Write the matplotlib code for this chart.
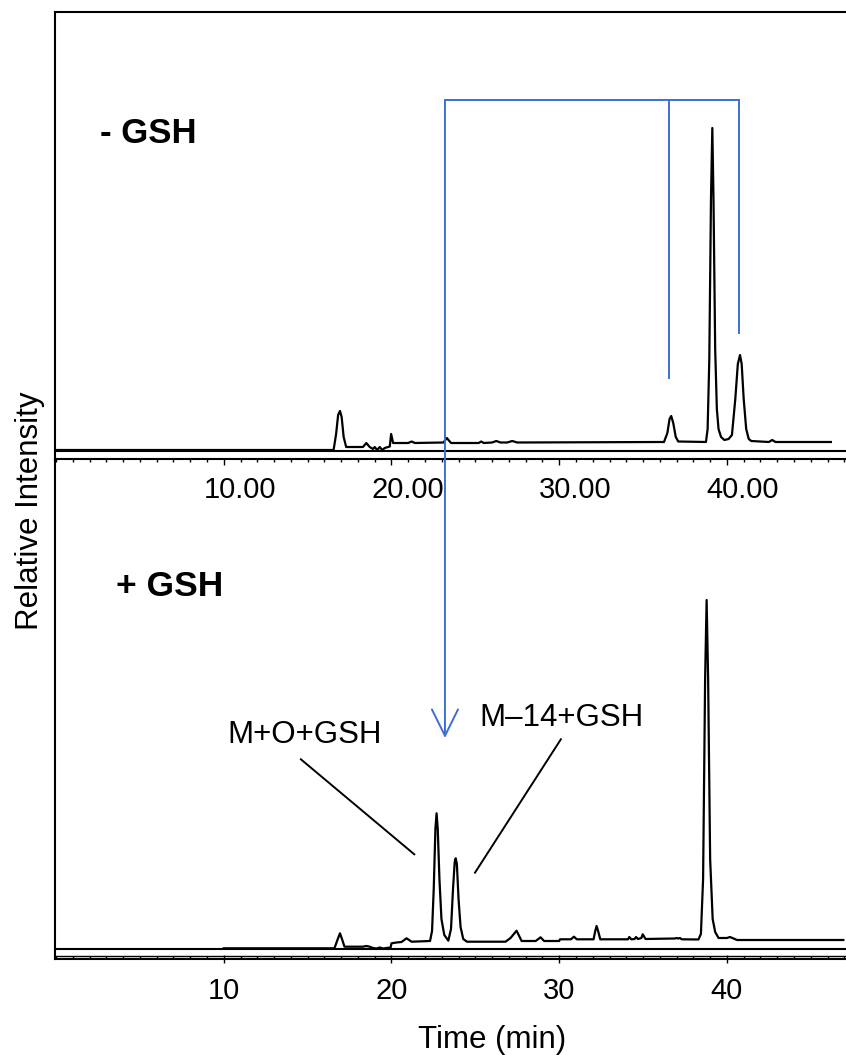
import numpy as np
import matplotlib.pyplot as plt
from matplotlib.ticker import MultipleLocator
from matplotlib.transforms import ScaledTranslation

plt.rcParams['font.family'] = ['Liberation Sans', 'DejaVu Sans']

# chromatogram without GSH (time in min, relative intensity)
top_t = [0.0, 16.55, 16.7, 16.82, 16.93, 17.03, 17.15, 17.3, 18.3, 18.5, 18.7, 18.9, 19.0,
         19.15, 19.3, 19.45, 19.6, 19.9, 19.98, 20.1, 21.0, 21.2, 21.4, 23.1, 23.3, 23.55,
         25.2, 25.35, 25.5, 26.0, 26.25, 26.5, 26.9, 27.2, 27.5, 36.25, 36.45, 36.58, 36.68,
         36.8, 36.95, 37.1, 38.75, 38.85, 38.95, 39.05, 39.13, 39.2, 39.3, 39.4, 39.5, 39.65,
         39.85, 40.1, 40.3, 40.5, 40.65, 40.78, 40.88, 41.0, 41.15, 41.3, 41.45, 42.5, 42.7,
         42.9, 46.2]
top_i = [9, 9, 25, 44, 48, 42, 22, 12, 12, 16, 12, 10, 12,
         9, 12, 9, 11, 12.5, 25, 16, 16, 17.5, 16, 16.5, 21, 16,
         16, 17.5, 16, 16.5, 18, 16.5, 16.5, 18, 16.5, 17, 26, 40, 43,
         36, 22, 17.5, 17, 30, 100, 260, 331, 260, 110, 50, 30, 22,
         19, 20, 24, 60, 95, 104, 95, 60, 30, 20, 18, 17, 19,
         17, 17]

# chromatogram with GSH
bot_t = [10.0, 16.6, 16.8, 16.93, 17.05, 17.2, 18.3, 18.5, 18.7, 18.9, 19.1, 19.3, 19.5,
         19.7, 19.95, 20.0, 20.3, 20.6, 20.9, 21.2, 22.3, 22.42, 22.52, 22.62, 22.69, 22.76,
         22.86, 22.98, 23.15, 23.39, 23.55, 23.67, 23.77, 23.83, 23.9, 24.0, 24.12, 24.28,
         24.5, 26.8, 27.1, 27.46, 27.76, 28.6, 28.89, 29.1, 30.0, 30.05, 30.7, 30.88, 31.05,
         32.05, 32.15, 32.23, 32.32, 32.45, 34.1, 34.18, 34.3, 34.5, 34.58, 34.7, 34.9,
         34.98, 35.15, 36.9, 37.0, 37.1, 37.2, 37.3, 38.3, 38.45, 38.58, 38.7, 38.79, 38.88,
         39.0, 39.15, 39.3, 39.5, 40.0, 40.18, 40.4, 40.6, 46.94]
bot_i = [10.7, 10.7, 20, 25.7, 20, 12.3, 12.3, 13, 12.3, 11, 10.5, 11.5, 10.5,
         11, 11.5, 15.7, 16.5, 17, 20.7, 17.3, 18, 28, 70, 130, 145.7, 130,
         80, 40, 24, 18.3, 30, 70, 97, 100.7, 95, 60, 32, 20,
         17.3, 17.3, 21, 28.3, 18, 18, 21.7, 18, 18, 19.7, 19.7, 22.3, 19.7,
         19.7, 28, 33, 28, 19.7, 19.7, 22, 19.7, 20, 22, 20, 21,
         24.7, 20, 20.5, 21, 20.5, 21, 19.7, 19.5, 25, 80, 280, 359, 280,
         100, 40, 27, 21, 21, 22, 20.5, 19, 19]

ticks = [10, 20, 30, 40]
top_labels = ['10.00', '20.00', '30.00', '40.00']
bot_labels = ['10', '20', '30', '40']

# blue bracket linking the two runs
bracket_t = [23.19, 36.56, 40.73]
bracket_top = 359
bracket_ends = [-279, 81, 126]

blue = '#3b6fd6'
W, H = 846, 1055
fig = plt.figure(figsize=(W / 100, H / 100), dpi=100)
ax_top = fig.add_axes([55 / W, 1 - 459 / H, 791 / W, 447 / H])
ax_bot = fig.add_axes([55 / W, 1 - 959 / H, 791 / W, 500 / H])

for ax in (ax_top, ax_bot):
    ax.set_facecolor('none')
    ax.set_xlim(-0.06, 47.1)
    ax.spines['right'].set_visible(False)
    ax.spines['left'].set_linewidth(1.5)
    ax.spines['bottom'].set_linewidth(1.5)
    ax.set_yticks([])
    ax.set_xticks(ticks)
    ax.xaxis.set_minor_locator(MultipleLocator(1))

ax_top.set_ylim(0, 447)
ax_top.spines['top'].set_linewidth(1.5)
ax_top.plot(top_t, top_i, color='black', lw=1.6, solid_joinstyle='round')
ax_top.axhline(8, color='black', lw=1.5)
ax_top.set_xticklabels(top_labels)
ax_top.tick_params(axis='x', which='major', direction='out', length=4, width=1,
                   labelsize=21, pad=8)
ax_top.tick_params(axis='x', which='minor', direction='out', length=2.5, width=1)

ax_bot.set_ylim(0, 500)
ax_bot.spines['top'].set_visible(False)
ax_bot.plot(bot_t, bot_i, color='black', lw=1.6, solid_joinstyle='round')
ax_bot.axhline(10.5, color='black', lw=1.5)
ax_bot.axhline(3.5, color='black', lw=1)
ax_bot.set_xticklabels(bot_labels)
ax_bot.tick_params(axis='x', which='major', direction='inout', length=6, width=1,
                   labelsize=21, pad=10)
ax_bot.tick_params(axis='x', which='minor', direction='in', length=2.5, width=1)

# top labels sit a little right of their ticks in the original
shift = ScaledTranslation(0.16, 0, fig.dpi_scale_trans)
for lbl in ax_top.get_xticklabels():
    lbl.set_transform(lbl.get_transform() + shift)

# bracket + arrow
ax_top.plot([bracket_t[0], bracket_t[2]], [bracket_top, bracket_top], color=blue, lw=1.4,
            clip_on=False)
for t, end in zip(bracket_t[1:], bracket_ends[1:]):
    ax_top.plot([t, t], [bracket_top, end], color=blue, lw=1.4, clip_on=False)
ax_top.annotate('', xy=(bracket_t[0], bracket_ends[0]), xytext=(bracket_t[0], bracket_top),
                annotation_clip=False,
                arrowprops=dict(arrowstyle='->,head_length=19,head_width=9.4',
                                mutation_scale=1, color=blue, lw=1.4,
                                shrinkA=0, shrinkB=0))

ax_top.text(0.057, 0.706, '- GSH', transform=ax_top.transAxes, fontsize=25,
            fontweight='bold', ha='left', va='baseline')
ax_bot.text(0.077, 0.725, '+ GSH', transform=ax_bot.transAxes, fontsize=25.5,
            fontweight='bold', ha='left', va='baseline')

# peak labels
ax_bot.text(14.8, 215.7, 'M+O+GSH', fontsize=22.5, ha='center', va='baseline')
ax_bot.plot([14.6, 21.36], [199.7, 104.7], color='black', lw=1.4)
ax_bot.text(30.15, 233, 'M\u201314+GSH', fontsize=22.5, ha='center', va='baseline')
ax_bot.plot([30.1, 24.98], [219.7, 86.3], color='black', lw=1.4)

fig.text(30 / W, 1 - 511 / H, 'Relative Intensity', rotation=90, fontsize=22.5,
         ha='center', va='center')
fig.text(491.7 / W, 1 - 1040 / H, 'Time (min)', fontsize=22.5, ha='center', va='center')

fig.savefig('out.png', dpi=100)
